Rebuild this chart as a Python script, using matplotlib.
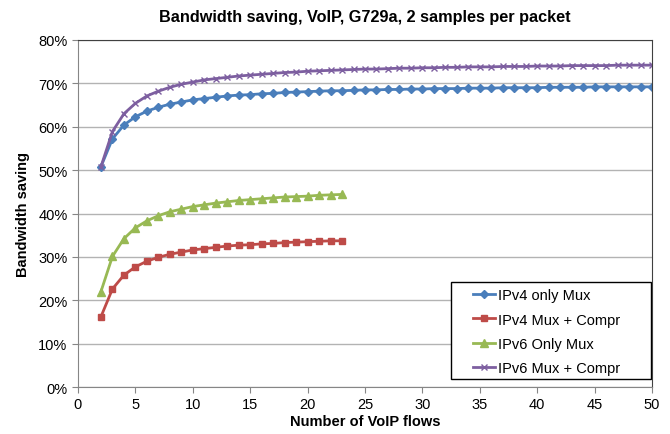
import numpy as np
import matplotlib.pyplot as plt
from matplotlib.patches import Rectangle
from matplotlib.ticker import PercentFormatter

plt.rcParams['font.family'] = ['Liberation Sans', 'DejaVu Sans']

# Number of VoIP flows
flows_long = list(range(2, 51))
flows_short = list(range(2, 24))

# Bandwidth saving (%)
ipv4_mux = [50.8, 57.2, 60.4, 62.3, 63.6, 64.5, 65.2, 65.7, 66.2, 66.5,
            66.8, 67.1, 67.3, 67.4, 67.6, 67.7, 67.9, 68.0, 68.1, 68.2,
            68.3, 68.3, 68.4, 68.5, 68.5, 68.6, 68.6, 68.7, 68.7, 68.8,
            68.8, 68.8, 68.9, 68.9, 68.9, 69.0, 69.0, 69.0, 69.0, 69.1,
            69.1, 69.1, 69.1, 69.2, 69.2, 69.2, 69.2, 69.2, 69.2]
ipv6_mux_compr = [50.8, 58.9, 63.0, 65.4, 67.1, 68.2, 69.1, 69.8, 70.3, 70.8,
                  71.1, 71.4, 71.7, 71.9, 72.1, 72.3, 72.5, 72.6, 72.8, 72.9,
                  73.0, 73.1, 73.2, 73.3, 73.3, 73.4, 73.5, 73.5, 73.6, 73.6,
                  73.7, 73.7, 73.8, 73.8, 73.8, 73.9, 73.9, 73.9, 74.0, 74.0,
                  74.0, 74.1, 74.1, 74.1, 74.1, 74.2, 74.2, 74.2, 74.2]
ipv6_mux = [22.0, 30.1, 34.2, 36.7, 38.3, 39.5, 40.4, 41.0, 41.6, 42.0,
            42.4, 42.7, 43.0, 43.2, 43.4, 43.6, 43.8, 43.9, 44.0, 44.2,
            44.3, 44.4]
ipv4_mux_compr = [16.2, 22.6, 25.8, 27.7, 29.0, 29.9, 30.6, 31.1, 31.6, 31.9,
                  32.2, 32.5, 32.7, 32.8, 33.0, 33.1, 33.3, 33.4, 33.5, 33.6,
                  33.7, 33.7]

fig = plt.figure(figsize=(6.7, 4.35), dpi=100)
ax = fig.add_axes([78 / 670, 1 - 388 / 435, (652 - 78) / 670, (388 - 41) / 435])

ax.plot(flows_long, ipv4_mux, color='#4a7ebb', marker='D', markersize=4.5,
        linewidth=2, label='IPv4 only Mux')
ax.plot(flows_short, ipv4_mux_compr, color='#be4b48', marker='s', markersize=5,
        linewidth=2, label='IPv4 Mux + Compr')
ax.plot(flows_short, ipv6_mux, color='#98b954', marker='^', markersize=5.5,
        linewidth=2, label='IPv6 Only Mux')
ax.plot(flows_long, ipv6_mux_compr, color='#7d5fa0', marker='x', markersize=5,
        markeredgewidth=1, linewidth=2, label='IPv6 Mux + Compr')

ax.set_xlim(0, 50)
ax.set_ylim(0, 80)
ax.set_xticks(np.arange(0, 51, 5))
ax.set_yticks(np.arange(0, 81, 10))
ax.yaxis.set_major_formatter(PercentFormatter(decimals=0))
ax.grid(axis='y', color='#b3b3b3', linewidth=1)
ax.set_axisbelow(True)

for side in ['left', 'bottom']:
    ax.spines[side].set_color('#868686')
for side in ['top', 'right']:
    ax.spines[side].set_color('#404040')
ax.tick_params(direction='out', length=4, color='#868686', labelsize=10.5)

ax.set_title('Bandwidth saving, VoIP, G729a, 2 samples per packet',
             fontsize=11.7, fontweight='bold', pad=14)
ax.set_xlabel('Number of VoIP flows', fontsize=10.5, fontweight='bold', labelpad=2)
ax.set_ylabel('Bandwidth saving', fontsize=10.5, fontweight='bold', labelpad=6)

# Excel-style legend box: fixed white rectangle with black border
box = Rectangle(((451 - 78) / 574, (388 - 380) / 347), 200 / 574, 97 / 347,
                transform=ax.transAxes, facecolor='white', edgecolor='black',
                linewidth=1, zorder=4)
ax.add_patch(box)
leg = ax.legend(loc='upper left', bbox_to_anchor=((473 - 78) / 574, (388 - 289) / 347),
                fontsize=10.5, frameon=False, handlelength=1.5, handletextpad=0.2,
                borderpad=0, borderaxespad=0, labelspacing=0.72)
leg.set_zorder(5)

fig.savefig('out.png', dpi=100)
